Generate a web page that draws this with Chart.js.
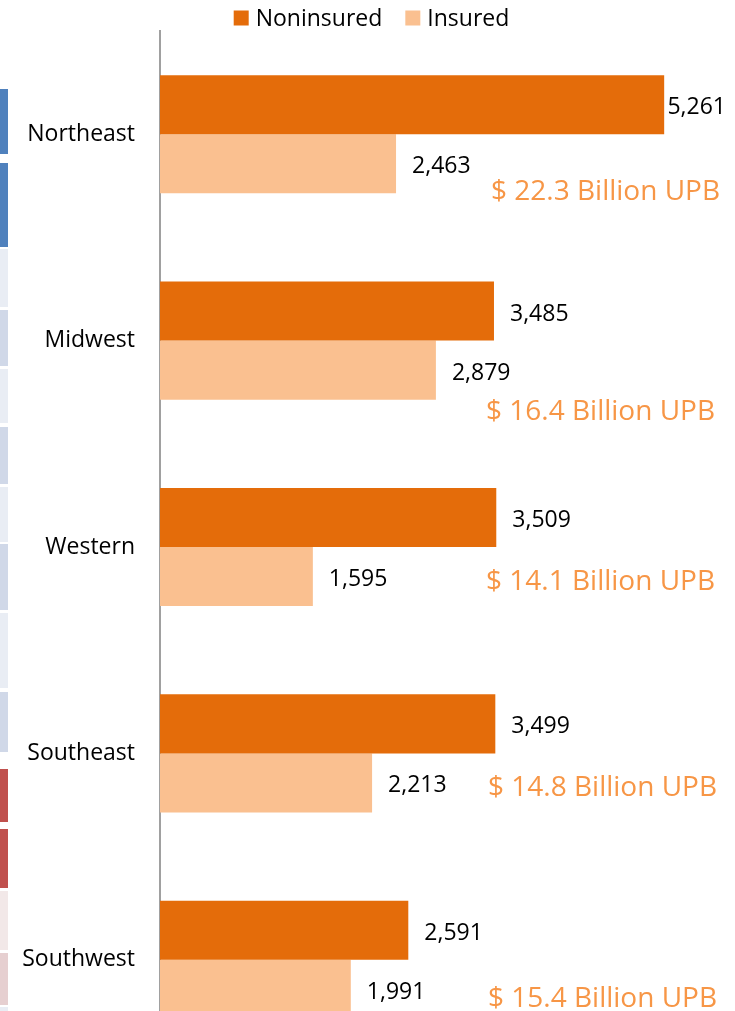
<!DOCTYPE html>
<html>
<head>
<meta charset="utf-8">
<script src="https://cdn.jsdelivr.net/npm/chart.js@4.4.1/dist/chart.umd.min.js"></script>
<style>
    html, body { margin: 0; padding: 0; background: #fff; overflow: hidden; }
    #wrap { position: absolute; left: 0; top: 0; width: 735px; height: 1063px; }
    .strip { position: absolute; left: 0; width: 8px; }
</style>
</head>
<body>
<!-- обрезанный край соседней таблицы слева -->
<div class="strip" style="top:89px;height:65px;background:#4f81bd"></div>
<div class="strip" style="top:163px;height:84px;background:#4f81bd"></div>
<div class="strip" style="top:249px;height:58px;background:#e9edf4"></div>
<div class="strip" style="top:310px;height:56px;background:#d0d8e8"></div>
<div class="strip" style="top:369px;height:54px;background:#e9edf4"></div>
<div class="strip" style="top:427px;height:57px;background:#d0d8e8"></div>
<div class="strip" style="top:487px;height:55px;background:#e9edf4"></div>
<div class="strip" style="top:544px;height:66px;background:#d0d8e8"></div>
<div class="strip" style="top:613px;height:75px;background:#e9edf4"></div>
<div class="strip" style="top:692px;height:60px;background:#d0d8e8"></div>
<div class="strip" style="top:769px;height:53px;background:#c0504d"></div>
<div class="strip" style="top:829px;height:59px;background:#c0504d"></div>
<div class="strip" style="top:891px;height:59px;background:#f2e8e8"></div>
<div class="strip" style="top:953px;height:52px;background:#e6cfd0"></div>
<div class="strip" style="top:1007px;height:10px;background:#e9edf4"></div>

<div id="wrap"><canvas id="chart" width="735" height="1063"></canvas></div>

<script>
// Данные
const regions = ['Northeast', 'Midwest', 'Western', 'Southeast', 'Southwest'];
const noninsured = [5261, 3485, 3509, 3499, 2591];
const insured = [2463, 2879, 1595, 2213, 1991];
const upbBillions = [22.3, 16.4, 14.1, 14.8, 15.4];

const FONT = '"Open Sans", "DejaVu Sans", sans-serif';
const upbColor = '#f79646';
// смещение подписей UPB от центра категории (px), подписи стояли вручную
const upbOffsets = [58, 71, 35, 35, 39];
const upbRight = [720, 715, 715, 717, 717];

// подписи значений справа от столбцов
const valueLabels = {
    id: 'valueLabels',
    afterDatasetsDraw(chart) {
        const ctx = chart.ctx;
        ctx.save();
        ctx.font = '23px ' + FONT;
        ctx.fillStyle = '#000';
        ctx.textBaseline = 'middle';
        ctx.textAlign = 'left';
        chart.data.datasets.forEach((ds, i) => {
            chart.getDatasetMeta(i).data.forEach((bar, j) => {
                const txt = ds.data[j].toLocaleString('en-US');
                const w = ctx.measureText(txt).width;
                let x = bar.x + 16;
                if (x + w > chart.width - 9) x = chart.width - 9 - w;
                ctx.fillText(txt, x, bar.y + 3);
            });
        });
        ctx.restore();
    }
};

// подписи "$ xx Billion UPB"
const upbLabels = {
    id: 'upbLabels',
    afterDatasetsDraw(chart) {
        const ctx = chart.ctx;
        const yScale = chart.scales.y;
        ctx.save();
        ctx.font = '28px ' + FONT;
        ctx.fillStyle = upbColor;
        ctx.textBaseline = 'middle';
        ctx.textAlign = 'right';
        upbBillions.forEach((v, i) => {
            const y = yScale.getPixelForValue(i) + upbOffsets[i];
            ctx.fillText('$ ' + v.toFixed(1) + ' Billion UPB', upbRight[i], y);
        });
        ctx.restore();
    }
};

// легенда сверху
const topLegend = {
    id: 'topLegend',
    afterDraw(chart) {
        const ctx = chart.ctx;
        const box = 15, gapText = 7, gapItem = 23;
        ctx.save();
        ctx.font = '23px ' + FONT;
        ctx.textBaseline = 'middle';
        const items = chart.data.datasets.map(ds => ({
            label: ds.label, color: ds.backgroundColor, w: ctx.measureText(ds.label).width
        }));
        const total = items.reduce((s, it) => s + box + gapText + it.w, 0) + gapItem * (items.length - 1);
        let x = chart.width / 2 + 4 - total / 2;
        const y = 18;
        items.forEach(it => {
            ctx.fillStyle = it.color;
            ctx.fillRect(x, y - box / 2, box, box);
            x += box + gapText;
            ctx.fillStyle = '#000';
            ctx.fillText(it.label, x, y + 1);
            x += it.w + gapItem;
        });
        ctx.restore();
    }
};

new Chart(document.getElementById('chart').getContext('2d'), {
    type: 'bar',
    data: {
        labels: regions,
        datasets: [{
            label: 'Noninsured',
            data: noninsured,
            backgroundColor: '#e46c0a',
            borderWidth: 0
        }, {
            label: 'Insured',
            data: insured,
            backgroundColor: '#fac090',
            borderWidth: 0
        }]
    },
    options: {
        indexAxis: 'y',
        responsive: false,
        animation: false,
        layout: { padding: { top: 31, left: 0, right: 0, bottom: 0 } },
        categoryPercentage: 0.572,
        barPercentage: 1,
        scales: {
            x: {
                display: false,
                min: 0,
                max: 6000
            },
            y: {
                grid: { display: false },
                border: { display: true, color: '#a0a0a0', width: 2 },
                ticks: {
                    color: '#000',
                    padding: 17,
                    font: { family: FONT, size: 23 }
                },
                afterFit(scale) {
                    scale.width = 160;
                    // без лишних отступов сверху/снизу от подписей
                    scale.paddingTop = 0;
                    scale.paddingBottom = 0;
                }
            }
        },
        plugins: {
            legend: { display: false },
            tooltip: { enabled: false }
        }
    },
    plugins: [valueLabels, upbLabels, topLegend]
});
</script>
</body>
</html>
